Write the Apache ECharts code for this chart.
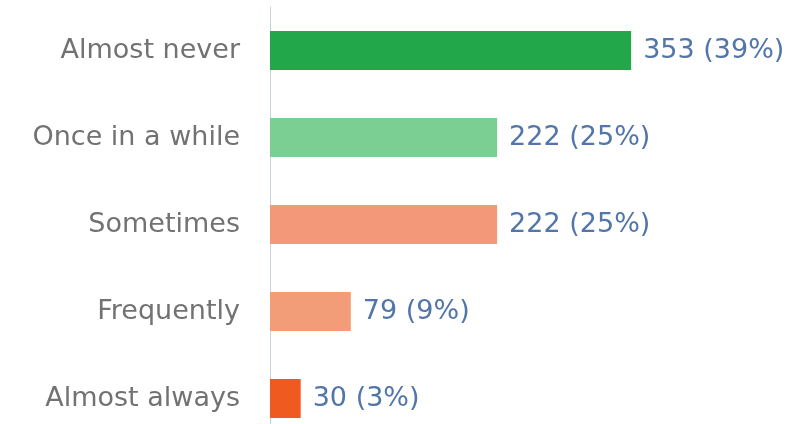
<!DOCTYPE html>
<html>
<head>
<meta charset="utf-8">
<script src="https://cdn.jsdelivr.net/npm/echarts@6/dist/echarts.min.js"></script>
<style>
  html, body { margin: 0; padding: 0; background: #ffffff; }
  #chart { width: 812px; height: 424px; }
</style>
</head>
<body>
<div id="chart"></div>
<script>
// Survey answers, top to bottom
const categories = ['Almost never', 'Once in a while', 'Sometimes', 'Frequently', 'Almost always'];
const counts = [353, 222, 222, 79, 30];
const percents = [39, 25, 25, 9, 3];
const barColors = ['#22a84a', '#7ccf93', '#f3997a', '#f29d78', '#ee5a1f'];

const chart = echarts.init(document.getElementById('chart'));

chart.setOption({
  animation: false,
  grid: { left: 270, top: 7, width: 532, height: 435, outerBoundsMode: 'none' },
  xAxis: {
    type: 'value',
    min: 0,
    max: 520,
    show: false
  },
  yAxis: {
    type: 'category',
    inverse: true,
    data: categories,
    axisLine: { show: true, lineStyle: { color: '#c9d3e0', width: 1 } },
    axisTick: { show: false },
    axisLabel: {
      margin: 30,
      color: '#727272',
      fontSize: 27,
      fontFamily: 'DejaVu Sans',
      padding: [4, 0, 0, 0]
    }
  },
  series: [{
    type: 'bar',
    barWidth: 39,
    data: counts.map((v, i) => ({ value: v, itemStyle: { color: barColors[i] } })),
    label: {
      show: true,
      position: 'right',
      distance: 12,
      color: '#5276aa',
      fontSize: 27,
      fontFamily: 'DejaVu Sans',
      padding: [4, 0, 0, 0],
      formatter: p => counts[p.dataIndex] + ' (' + percents[p.dataIndex] + '%)'
    }
  }]
});
</script>
</body>
</html>
